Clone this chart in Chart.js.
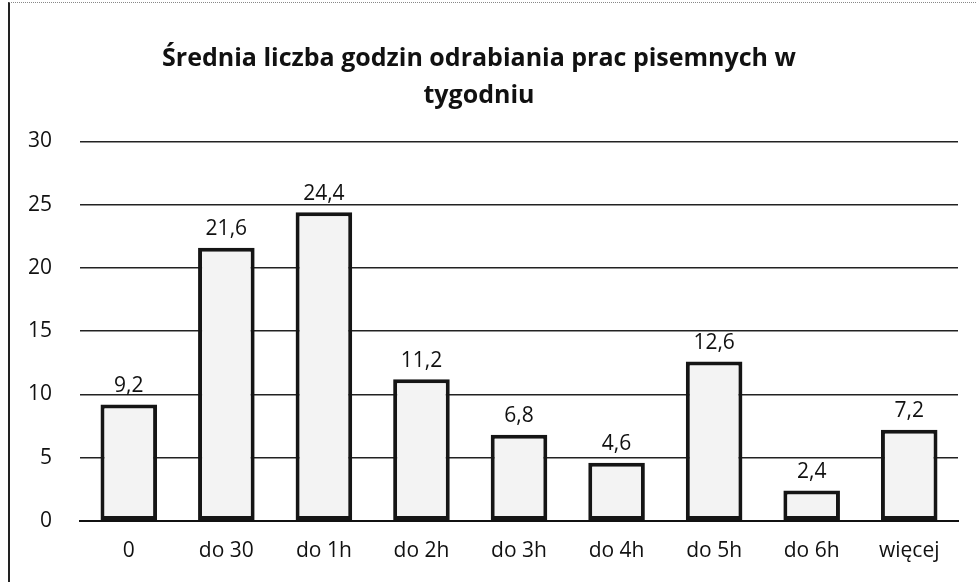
<!DOCTYPE html>
<html>
<head>
<meta charset="utf-8">
<script src="https://cdn.jsdelivr.net/npm/chart.js@4/dist/chart.umd.min.js"></script>
<style>
  html, body { margin: 0; padding: 0; background: #fff; }
  #ramka {
    position: absolute; left: 8px; top: 2px; width: 968px; height: 580px;
    border-left: 2px solid #222; border-top: 1px dotted #888; box-sizing: border-box;
  }
  #wykres { position: absolute; left: 0; top: 0; }
</style>
</head>
<body>
<div id="ramka"></div>
<canvas id="wykres" width="976" height="582"></canvas>
<script>
// Kategorie i wartości
const kategorie = ['0', 'do 30', 'do 1h', 'do 2h', 'do 3h', 'do 4h', 'do 5h', 'do 6h', 'więcej'];
const wartosci = [9.2, 21.6, 24.4, 11.2, 6.8, 4.6, 12.6, 2.4, 7.2];
const tytul = ['Średnia liczba godzin odrabiania prac pisemnych w', 'tygodniu'];

// Etykiety z wartościami nad słupkami (przecinek dziesiętny)
const etykietyWartosci = {
    id: 'etykietyWartosci',
    afterDatasetsDraw(chart) {
        const ctx = chart.ctx;
        const meta = chart.getDatasetMeta(0);
        ctx.save();
        ctx.font = '21px "Open Sans", sans-serif';
        ctx.fillStyle = '#111';
        ctx.textAlign = 'center';
        ctx.textBaseline = 'bottom';
        meta.data.forEach((bar, i) => {
            const tekst = wartosci[i].toFixed(1).replace('.', ',');
            ctx.fillText(tekst, bar.x, bar.y - 8);
        });
        ctx.restore();
    }
};

var ctx = document.getElementById('wykres').getContext('2d');
var myChart = new Chart(ctx, {
    type: 'bar',
    data: {
        labels: kategorie,
        datasets: [{
            data: wartosci,
            backgroundColor: '#f3f3f3',
            borderColor: '#151515',
            borderWidth: 4,
            borderSkipped: false,
            categoryPercentage: 1.0,
            barPercentage: 0.58
        }]
    },
    options: {
        responsive: false,
        animation: false,
        layout: { padding: { left: 0, right: 18, top: 41, bottom: 8 } },
        plugins: {
            legend: { display: false },
            tooltip: { enabled: false },
            title: {
                display: true,
                text: tytul,
                color: '#111',
                font: { family: '"Open Sans", sans-serif', size: 25, weight: 'bold', lineHeight: 1.45 },
                padding: { top: 0, bottom: 28 }
            }
        },
        scales: {
            x: {
                grid: { display: false },
                border: { color: '#111', width: 2 },
                ticks: { color: '#111', font: { family: '"Open Sans", sans-serif', size: 21 }, padding: 10 }
            },
            y: {
                min: 0,
                max: 30,
                ticks: { stepSize: 5, color: '#111', font: { family: '"Open Sans", sans-serif', size: 21 }, padding: 28 },
                grid: { color: '#222', lineWidth: 1.5, drawTicks: false },
                border: { display: false }
            }
        }
    },
    plugins: [etykietyWartosci]
});
</script>
</body>
</html>
